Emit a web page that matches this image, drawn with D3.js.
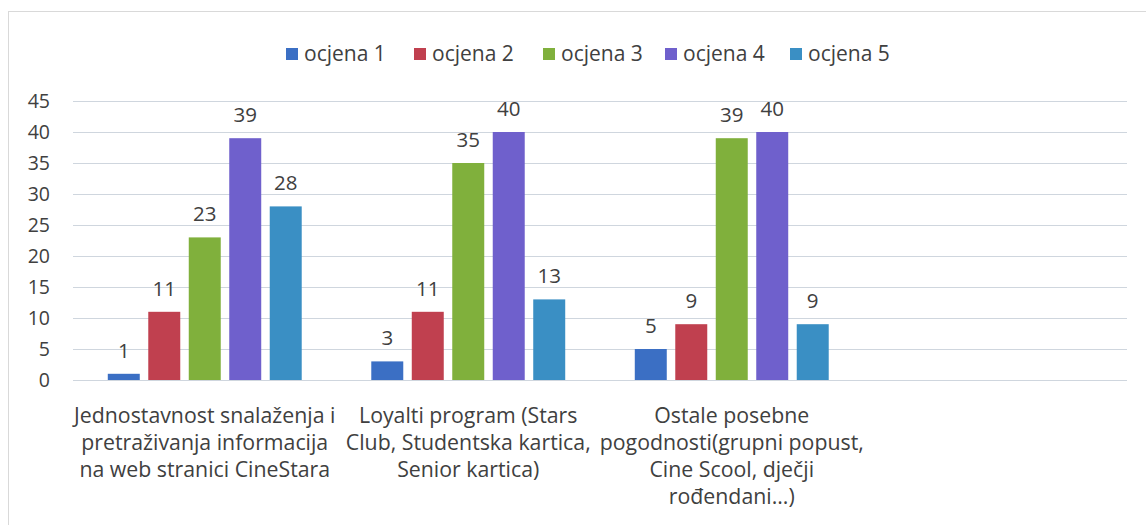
<!DOCTYPE html>
<html>
<head>
<meta charset="utf-8">
<script src="https://cdn.jsdelivr.net/npm/d3@7"></script>
<style>
  body { margin: 0; background: #fff; }
  text { font-family: "Open Sans", Lato, sans-serif; fill: #404040; }
</style>
</head>
<body>
<div id="chart-area"></div>
<script>
// categories (4th slot is empty in the original)
var categories = ["c1", "c2", "c3", "c4"];
var categoryLabels = [
  ["Jednostavnost snalaženja i", "pretraživanja informacija", "na web stranici CineStara"],
  ["Loyalti program (Stars", "Club, Studentska kartica,", "Senior kartica)"],
  ["Ostale posebne", "pogodnosti(grupni popust,", "Cine Scool, dječji", "rođendani...)"],
  []
];
var seriesNames = ["ocjena 1", "ocjena 2", "ocjena 3", "ocjena 4", "ocjena 5"];
var ocjena1 = [1, 3, 5];
var ocjena2 = [11, 11, 9];
var ocjena3 = [23, 35, 39];
var ocjena4 = [39, 40, 40];
var ocjena5 = [28, 13, 9];
var yTicks = [0, 5, 10, 15, 20, 25, 30, 35, 40, 45];
var colors = ["#3b6fc4", "#c0404f", "#80b03c", "#6f60cc", "#3a8fc4"];

var series = [ocjena1, ocjena2, ocjena3, ocjena4, ocjena5];

var W = 1146, H = 525;
var margin = {top: 101, left: 73, right: 19, bottom: 145};
var width = W - margin.left - margin.right;
var height = H - margin.top - margin.bottom;

var svg = d3.select("#chart-area").append("svg")
  .attr("width", W)
  .attr("height", H);

// chart border
svg.append("rect")
  .attr("x", 8.5).attr("y", 11.5)
  .attr("width", 1160).attr("height", 540)
  .attr("fill", "none").attr("stroke", "#d9d9d9");

var g = svg.append("g")
  .attr("transform", "translate(" + margin.left + "," + margin.top + ")");

var x0 = d3.scaleBand()
  .domain(categories)
  .range([0, width])
  .paddingInner(0.264)
  .paddingOuter(0.132);

var x1 = d3.scaleBand()
  .domain(seriesNames)
  .range([0, x0.bandwidth()])
  .paddingInner(0.21)
  .paddingOuter(0);

var y = d3.scaleLinear()
  .domain([0, 45])
  .range([height, 0]);

// gridlines
g.append("g").selectAll("line")
  .data(yTicks)
  .enter().append("line")
  .attr("x1", 0).attr("x2", width)
  .attr("y1", function(d) { return Math.round(y(d)) + 0.5; })
  .attr("y2", function(d) { return Math.round(y(d)) + 0.5; })
  .attr("stroke", "#cfd6de")
  .attr("stroke-width", 1);

// y axis labels
var yAxis = d3.axisLeft(y).tickValues(yTicks).tickSize(0).tickPadding(23);
g.append("g")
  .attr("class", "y-axis")
  .call(yAxis)
  .call(function(s) { s.select(".domain").remove(); })
  .selectAll("text")
  .style("font-size", "19.5px")
  .style("font-family", "'Open Sans', sans-serif")
  .attr("fill", "#404040");

// bars
seriesNames.forEach(function(name, si) {
  var vals = series[si];
  var grp = g.append("g");
  grp.selectAll("rect")
    .data(vals)
    .enter().append("rect")
    .attr("x", function(d, i) { return x0(categories[i]) + x1(name); })
    .attr("y", function(d) { return y(d); })
    .attr("width", x1.bandwidth())
    .attr("height", function(d) { return height - y(d); })
    .attr("fill", colors[si]);
  grp.selectAll("text")
    .data(vals)
    .enter().append("text")
    .attr("x", function(d, i) { return x0(categories[i]) + x1(name) + x1.bandwidth() / 2; })
    .attr("y", function(d) { return y(d) - 16; })
    .attr("text-anchor", "middle")
    .style("font-size", "20.5px")
    .text(function(d) { return d; });
});

// category labels
var xl = g.append("g");
categoryLabels.forEach(function(lines, i) {
  var t = xl.append("text")
    .attr("x", x0(categories[i]) + x0.bandwidth() / 2)
    .attr("y", height + 43)
    .attr("text-anchor", "middle")
    .style("font-size", "21.3px");
  lines.forEach(function(l, j) {
    t.append("tspan")
      .attr("x", x0(categories[i]) + x0.bandwidth() / 2)
      .attr("dy", j === 0 ? 0 : 27)
      .text(l);
  });
});

// legend
var legend = svg.append("g").attr("transform", "translate(286,54)");
var legX = [0, 128, 257, 379, 504];
seriesNames.forEach(function(name, i) {
  var it = legend.append("g").attr("transform", "translate(" + legX[i] + ",0)");
  it.append("rect")
    .attr("x", 0).attr("y", -6)
    .attr("width", 12).attr("height", 12)
    .attr("fill", colors[i]);
  it.append("text")
    .attr("x", 18).attr("y", 7)
    .style("font-size", "21px")
    .text(name);
});
</script>
</body>
</html>
